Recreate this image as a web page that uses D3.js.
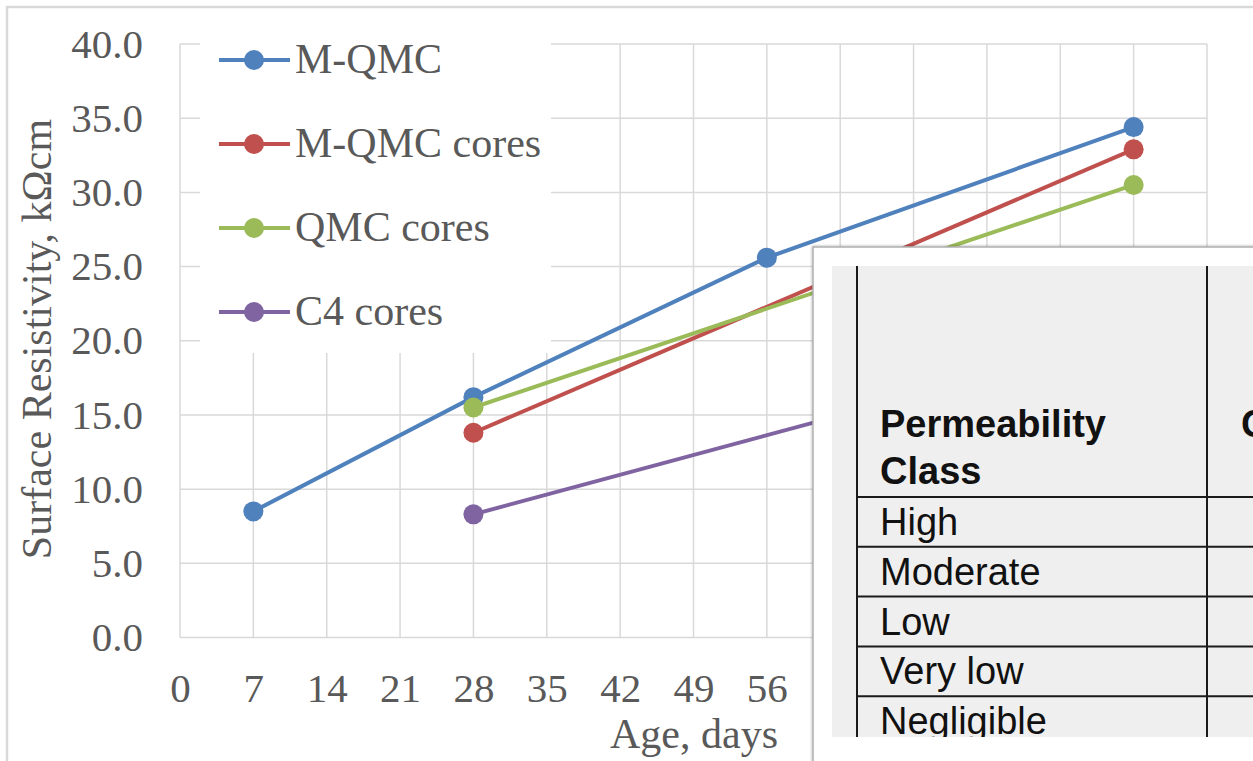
<!DOCTYPE html>
<html>
<head>
<meta charset="utf-8">
<script src="https://cdn.jsdelivr.net/npm/d3@7"></script>
<style>
  html, body { margin: 0; padding: 0; background: #fff; overflow: hidden; }
  svg { display: block; }
</style>
</head>
<body>
<div id="chart"></div>
<script>
  // values
  const xTicks = [0, 7, 14, 21, 28, 35, 42, 49, 56, 63, 70, 77, 84, 91, 98];
  const yTicks = [0, 5, 10, 15, 20, 25, 30, 35, 40];

  const seriesNames = ['M-QMC', 'M-QMC cores', 'QMC cores', 'C4 cores'];
  const seriesColors = ['#4f81bd', '#c0504d', '#9bbb59', '#8064a2'];

  const mqmcDays = [7, 28, 56, 91];
  const mqmcValues = [8.5, 16.2, 25.6, 34.4];
  const mqmcCoresDays = [28, 91];
  const mqmcCoresValues = [13.8, 32.9];
  const qmcCoresDays = [28, 91];
  const qmcCoresValues = [15.5, 30.5];
  const c4CoresDays = [28, 91];
  const c4CoresValues = [8.3, 20.3];

  const tableHeader = ['Permeability', 'Class'];
  const tableHeader2 = 'C';
  const tableRows = ['High', 'Moderate', 'Low', 'Very low', 'Negligible'];

  const series = [
    {days: mqmcDays, values: mqmcValues},
    {days: mqmcCoresDays, values: mqmcCoresValues},
    {days: qmcCoresDays, values: qmcCoresValues},
    {days: c4CoresDays, values: c4CoresValues}
  ].map((s, i) => ({
    name: seriesNames[i],
    color: seriesColors[i],
    points: s.days.map((d, j) => ({day: d, value: s.values[j]}))
  }));

  const width = 1253, height = 761;
  const plotLeft = 180, plotRight = 1207, plotTop = 44, plotBottom = 637.5;
  const tableLeft = 813, tableTop = 247;
  const textColor = '#595959';
  const gridColor = '#d9d9d9';

  const x = d3.scaleLinear().domain([0, 98]).range([plotLeft, plotRight]);
  const y = d3.scaleLinear().domain([0, 40]).range([plotBottom, plotTop]);

  const svg = d3.select('#chart').append('svg')
    .attr('width', width)
    .attr('height', height);

  // chart frame
  svg.append('path')
    .attr('d', `M7,${height + 5} V7 H${width + 5}`)
    .attr('fill', 'none')
    .attr('stroke', gridColor)
    .attr('stroke-width', 2.5);

  // gridlines
  svg.append('g')
    .selectAll('line')
    .data(yTicks)
    .join('line')
      .attr('x1', plotLeft).attr('x2', plotRight)
      .attr('y1', d => y(d)).attr('y2', d => y(d))
      .attr('stroke', gridColor)
      .attr('stroke-width', 1.5);

  svg.append('g')
    .selectAll('line')
    .data(xTicks)
    .join('line')
      .attr('x1', d => x(d)).attr('x2', d => x(d))
      .attr('y1', plotTop).attr('y2', plotBottom)
      .attr('stroke', gridColor)
      .attr('stroke-width', 1.5);

  // axis labels through d3 axes
  const yAxis = svg.append('g')
    .attr('transform', `translate(${plotLeft},0)`)
    .call(d3.axisLeft(y).tickValues(yTicks).tickSize(0).tickPadding(37).tickFormat(d3.format('.1f')));
  yAxis.select('.domain').remove();
  yAxis.selectAll('text')
    .attr('font-family', '"Liberation Serif", "Times New Roman", serif')
    .attr('font-size', 41)
    .attr('fill', textColor);

  const xAxis = svg.append('g')
    .attr('transform', `translate(0,${plotBottom})`)
    .call(d3.axisBottom(x).tickValues(xTicks).tickSize(0).tickPadding(35).tickFormat(d3.format('d')));
  xAxis.select('.domain').remove();
  // labels past 56 sit under the pasted table in the reference
  xAxis.selectAll('.tick').filter(d => x(d) > tableLeft - 20).remove();
  xAxis.selectAll('text')
    .attr('font-family', '"Liberation Serif", "Times New Roman", serif')
    .attr('font-size', 41)
    .attr('fill', textColor);

  // axis titles
  svg.append('text')
    .attr('transform', `translate(51,339) rotate(-90)`)
    .attr('text-anchor', 'middle')
    .attr('font-family', '"Liberation Serif", "Times New Roman", serif')
    .attr('font-size', 42)
    .attr('fill', textColor)
    .text('Surface Resistivity, kΩcm');

  svg.append('text')
    .attr('x', 694)
    .attr('y', 748)
    .attr('text-anchor', 'middle')
    .attr('font-family', '"Liberation Serif", "Times New Roman", serif')
    .attr('font-size', 42)
    .attr('fill', textColor)
    .text('Age, days');

  // series
  const line = d3.line().x(d => x(d.day)).y(d => y(d.value));

  const sg = svg.append('g')
    .selectAll('g')
    .data(series)
    .join('g');

  sg.append('path')
    .attr('d', d => line(d.points))
    .attr('fill', 'none')
    .attr('stroke', d => d.color)
    .attr('stroke-width', 4)
    .attr('stroke-linejoin', 'round');

  sg.selectAll('circle')
    .data(d => d.points.map(p => ({...p, color: d.color})))
    .join('circle')
      .attr('cx', d => x(d.day))
      .attr('cy', d => y(d.value))
      .attr('r', 10)
      .attr('fill', d => d.color);

  // legend
  const legend = svg.append('g');
  legend.append('rect')
    .attr('x', 200).attr('y', 30)
    .attr('width', 351).attr('height', 323)
    .attr('fill', '#fff');

  const li = legend.selectAll('g')
    .data(series)
    .join('g')
      .attr('transform', (d, i) => `translate(0,${60 + i * 84})`);
  li.append('line')
    .attr('x1', 219).attr('x2', 290)
    .attr('stroke', d => d.color)
    .attr('stroke-width', 4);
  li.append('circle')
    .attr('cx', 254).attr('r', 10)
    .attr('fill', d => d.color);
  li.append('text')
    .attr('x', 295).attr('y', 13)
    .attr('font-family', '"Liberation Serif", "Times New Roman", serif')
    .attr('font-size', 42)
    .attr('fill', textColor)
    .text(d => d.name);

  // pasted table on top
  const tbl = svg.append('g');
  const defs = svg.append('defs');
  const shadow = defs.append('filter').attr('id', 'shadow')
    .attr('x', -0.05).attr('y', -0.05).attr('width', 1.2).attr('height', 1.2);
  shadow.append('feDropShadow')
    .attr('dx', 0).attr('dy', 0).attr('stdDeviation', 1.5)
    .attr('flood-color', '#000').attr('flood-opacity', 0.35);

  tbl.append('rect')
    .attr('x', tableLeft).attr('y', tableTop)
    .attr('width', 500).attr('height', 560)
    .attr('fill', '#fff')
    .attr('stroke', '#b0b0b0')
    .attr('stroke-width', 1.5)
    .attr('filter', 'url(#shadow)');

  defs.append('clipPath').attr('id', 'tclip')
    .append('rect')
      .attr('x', 832).attr('y', 266)
      .attr('width', 421).attr('height', 471);

  const inner = tbl.append('g').attr('clip-path', 'url(#tclip)');
  inner.append('rect')
    .attr('x', 832).attr('y', 266)
    .attr('width', 500).attr('height', 471)
    .attr('fill', '#efefef');

  const rowTop = 497, rowH = 49.8;
  const rowY = d3.scaleLinear().domain([0, 1]).range([rowTop, rowTop + rowH]);

  inner.selectAll('line.h')
    .data(d3.range(tableRows.length))
    .join('line')
      .attr('class', 'h')
      .attr('x1', 857).attr('x2', 1300)
      .attr('y1', d => rowY(d)).attr('y2', d => rowY(d))
      .attr('stroke', '#1a1a1a')
      .attr('stroke-width', 2);

  inner.selectAll('line.v')
    .data([857, 1207])
    .join('line')
      .attr('class', 'v')
      .attr('x1', d => d).attr('x2', d => d)
      .attr('y1', 266).attr('y2', 740)
      .attr('stroke', '#1a1a1a')
      .attr('stroke-width', 2);

  inner.selectAll('text.hd')
    .data(tableHeader)
    .join('text')
      .attr('class', 'hd')
      .attr('x', 880)
      .attr('y', (d, i) => 437 + i * 47)
      .attr('font-family', '"Liberation Sans", Arial, sans-serif')
      .attr('font-weight', 'bold')
      .attr('font-size', 38)
      .attr('fill', '#111')
      .text(d => d);

  inner.append('text')
    .attr('x', 1241).attr('y', 437)
    .attr('font-family', '"Liberation Sans", Arial, sans-serif')
    .attr('font-weight', 'bold')
    .attr('font-size', 38)
    .attr('fill', '#111')
    .text(tableHeader2);

  inner.selectAll('text.row')
    .data(tableRows)
    .join('text')
      .attr('class', 'row')
      .attr('x', 880)
      .attr('y', (d, i) => rowY(i) + 38)
      .attr('font-family', '"Liberation Sans", Arial, sans-serif')
      .attr('font-size', 38)
      .attr('fill', '#111')
      .text(d => d);
</script>
</body>
</html>
